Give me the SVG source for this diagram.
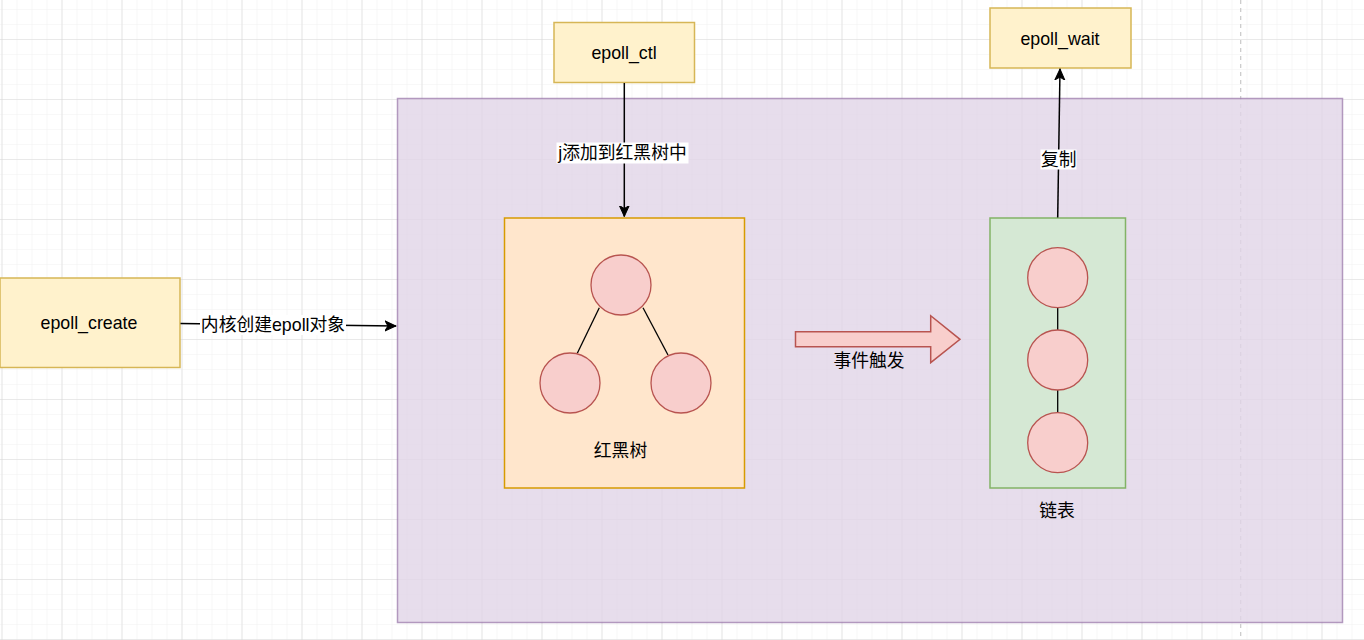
<svg xmlns="http://www.w3.org/2000/svg" width="1364" height="640" viewBox="0 0 1364 640">
  <style>
    .t { font-family: "Liberation Sans", "Noto Sans CJK SC", sans-serif; font-size: 17.8px; fill: #000; text-anchor: middle; dominant-baseline: central; }
    .yellow { fill: #fff2cc; stroke: #d6b656; stroke-width: 1.5; }
    .node { fill: #f8cecc; stroke: #b85450; stroke-width: 1.3; }
    .edge { fill: none; stroke: #000; stroke-width: 1.5; }
    .link { fill: none; stroke: #000; stroke-width: 1.3; }
    .lbg { fill: #fff; }
  </style>
  <defs>
    <pattern id="minor" x="1.5" y="9" width="15" height="15" patternUnits="userSpaceOnUse">
      <path d="M0,0 H15 M0,0 V15" stroke="#f1f1f1" stroke-width="1.2" fill="none"/>
    </pattern>
    <pattern id="major" x="1.5" y="39" width="60" height="60" patternUnits="userSpaceOnUse">
      <path d="M0,0 H60 M0,0 V60" stroke="#dadada" stroke-width="1.2" fill="none"/>
    </pattern>
    <marker id="arrow" viewBox="0 0 12 12" refX="11" refY="6" markerWidth="12" markerHeight="12" markerUnits="userSpaceOnUse" orient="auto">
      <path d="M0,1 L11,6 L0,11 L3,6 Z" fill="#000" stroke="#000" stroke-width="1"/>
    </marker>
  </defs>

  <g id="background">
    <rect x="0" y="0" width="1364" height="640" fill="#fff"/>
    <rect x="0" y="0" width="1364" height="640" fill="url(#minor)"/>
    <rect x="0" y="0" width="1364" height="640" fill="url(#major)"/>
    <line x1="1240.7" y1="0" x2="1240.7" y2="640" stroke="#c8c8c8" stroke-width="1.2" stroke-dasharray="4,4"/>
  </g>

  <g id="container">
    <rect x="397.5" y="98.5" width="945" height="524" fill="#e1d5e7" fill-opacity="0.8" stroke="#9673a6" stroke-opacity="0.7" stroke-width="1.5"/>
  </g>

  <g id="epoll_create">
    <rect class="yellow" x="0" y="278" width="180" height="89.5"/>
    <text class="t" x="89" y="323">epoll_create</text>
  </g>

  <g id="epoll_ctl">
    <rect class="yellow" x="554" y="22.5" width="140.5" height="60"/>
    <text class="t" x="624" y="53">epoll_ctl</text>
  </g>

  <g id="epoll_wait">
    <rect class="yellow" x="990" y="8" width="141" height="60"/>
    <text class="t" x="1060" y="39">epoll_wait</text>
  </g>

  <g id="rbtree">
    <rect x="504.5" y="218" width="240" height="270" fill="#ffe6cc" stroke="#d79b00" stroke-width="1.5"/>
    <line class="link" x1="599.3" y1="307.7" x2="577.3" y2="353.3"/>
    <line class="link" x1="643" y1="307.7" x2="668" y2="355"/>
    <circle class="node" cx="621" cy="285" r="30"/>
    <circle class="node" cx="570" cy="383" r="30"/>
    <circle class="node" cx="681" cy="383" r="30"/>
    <text class="t" x="620.5" y="451">红黑树</text>
  </g>

  <g id="linkedlist">
    <rect x="990" y="218" width="135.5" height="270" fill="#d5e8d4" stroke="#82b366" stroke-width="1.5"/>
    <line class="link" x1="1057.7" y1="308" x2="1057.7" y2="330"/>
    <line class="link" x1="1057.7" y1="390" x2="1057.7" y2="413"/>
    <circle class="node" cx="1057.7" cy="277.7" r="30"/>
    <circle class="node" cx="1057.7" cy="360" r="30"/>
    <circle class="node" cx="1057.7" cy="442.7" r="30"/>
    <text class="t" x="1057" y="511">链表</text>
  </g>

  <g id="trigger">
    <path d="M795.5,331.7 H930.7 V315.7 L960,339.3 L930.7,362.7 V346.7 H795.5 Z" fill="#f8cecc" stroke="#b85450" stroke-width="1.5"/>
    <text class="t" x="869" y="361">事件触发</text>
  </g>

  <g id="connectors">
    <path class="edge" d="M180.5,323.5 L396,326" marker-end="url(#arrow)"/>
    <rect class="lbg" x="200" y="315" width="146" height="20"/>
    <text class="t" x="273" y="325">内核创建epoll对象</text>

    <path class="edge" d="M624.3,83 L624.3,216.5" marker-end="url(#arrow)"/>
    <rect class="lbg" x="556.5" y="142.5" width="132" height="21"/>
    <text class="t" x="622.5" y="153">j添加到红黑树中</text>

    <path class="edge" d="M1057.7,217.5 L1060,69" marker-end="url(#arrow)"/>
    <rect class="lbg" x="1040.5" y="149.5" width="36" height="20"/>
    <text class="t" x="1058.7" y="159.5">复制</text>
  </g>
</svg>
